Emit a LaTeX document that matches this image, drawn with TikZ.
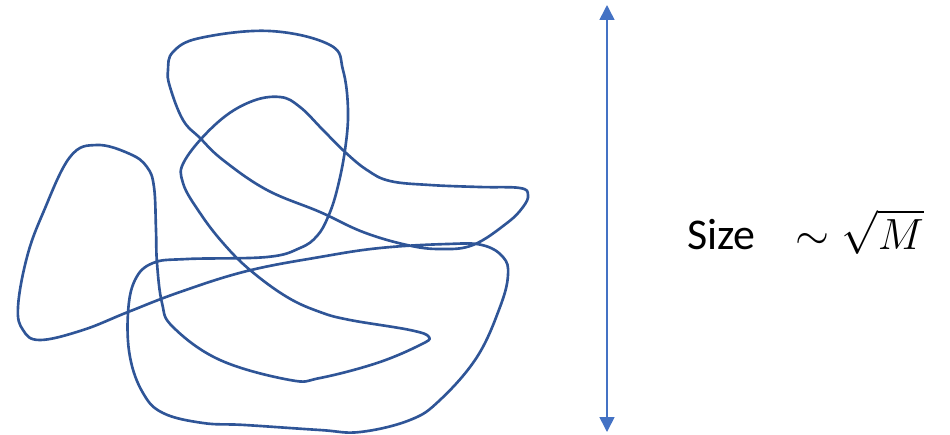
\documentclass[tikz,border=0pt]{standalone}
\usepackage{fontspec}
\setmainfont{Carlito}
\usepackage{tikz}
\usetikzlibrary{arrows.meta, positioning}
\definecolor{chainblue}{HTML}{2F5597}
\definecolor{arrowblue}{HTML}{4472C4}
\tikzset{
  % Tangled polymer chain
  polymer/.style={draw=chainblue, line width=1.5pt, line join=round},
  % Double headed size arrow
  sizearrow/.style={{Triangle[width=8.5pt, length=8.5pt]}-{Triangle[width=8.5pt, length=8.5pt]},
    draw=#1, line width=0.9pt},
  sizearrow/.default={arrowblue},
  % Scaling label
  sizelabel/.style={font=\fontsize{25}{30}\selectfont, text=black, inner sep=0pt},
}
\begin{document}
\begin{tikzpicture}[x=0.02cm, y=-0.02cm]
  \useasboundingbox (0,0) rectangle (950,434);

  % Chain
  \draw[polymer] plot[smooth cycle, tension=0.65] coordinates {
    (40,340) (83,330) (128,312) (180,292) (247,271) (320,257) (380,248)
    (447,244) (482,245) (503,257) (508,275) (500,307) (477,357) (440,400)
    (410,420) (360,432) (320,430) (245,425) (203,423) (163,413) (143,393)
    (130,357) (128,313) (135,280) (153,263) (187,259) (267,257) (300,248)
    (317,236) (328,217) (337,190) (345,150) (348,110) (343,70) (330,45)
    (270,31) (200,38) (173,52) (168,70) (170,87) (183,120) (200,138)
    (223,160) (267,190) (320,212) (363,232) (407,245) (440,249) (473,245)
    (507,223) (523,207) (528,195) (520,188) (480,187) (430,185) (390,181)
    (367,170) (345,152) (323,130) (300,107) (280,97) (250,102) (217,123)
    (185,160) (183,183) (200,213) (223,243) (250,270) (287,297) (320,312)
    (350,320) (410,330) (429,337) (420,345) (377,363) (320,378) (290,380)
    (220,360) (173,327) (162,303) (157,263) (156,230) (154,187) (147,167)
    (130,154) (97,145) (70,157) (43,213) (27,257) (18,307) (23,330)
  };

  % Size arrow
  \coordinate (top) at (607,5);
  \coordinate (bottom) at (607,432);
  \draw[sizearrow] (bottom) -- (top);

  % Label
  \node[sizelabel, anchor=west] (size) at (687,232) {Size\hspace{0.9em}$\sim\sqrt{M}$};
\end{tikzpicture}
\end{document}
